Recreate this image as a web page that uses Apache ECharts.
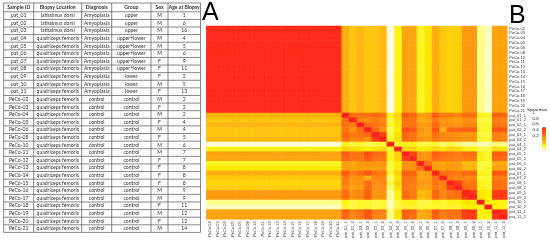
<!DOCTYPE html>
<html><head><meta charset="utf-8">
<style>html,body{margin:0;padding:0;background:#fff}#c{width:550px;height:241px}</style>
<script src="https://cdn.jsdelivr.net/npm/echarts@6/dist/echarts.min.js"></script></head>
<body><div id="c"></div>
<script>
const tableHeader = ["Sample ID","Biopsy Location","Diagnosis","Group","Sex","Age at Biopsy"];
const sampleIds = ["pat_01","pat_02","pat_03","pat_04","pat_05","pat_06","pat_07","pat_08","pat_09","pat_10","pat_11","PeCo-02","PeCo-03","PeCo-04","PeCo-05","PeCo-06","PeCo-08","PeCo-10","PeCo-11","PeCo-12","PeCo-13","PeCo-14","PeCo-15","PeCo-16","PeCo-17","PeCo-18","PeCo-19","PeCo-20","PeCo-21"];
const biopsy = ["latissimus dorsi","latissimus dorsi","latissimus dorsi"].concat(Array(26).fill("quadriceps femoris"));
const diagnosis = Array(11).fill("Amyoplasia").concat(Array(18).fill("control"));
const groups = ["upper","upper","upper","upper+lower","upper+lower","upper+lower","upper+lower","upper+lower","lower","lower","lower"].concat(Array(18).fill("control"));
const sexes = ["M","M","M","M","M","M","F","F","F","M","F","M","F","M","F","M","F","M","M","F","F","F","F","M","M","F","M","F","M"];
const ages = [1,6,16,4,5,6,9,11,2,5,13,2,2,2,4,4,5,6,7,7,8,8,8,9,9,11,12,12,14];

const pecoLabels = ["PeCo.02","PeCo.03","PeCo.04","PeCo.05","PeCo.06","PeCo.08","PeCo.10","PeCo.11","PeCo.12","PeCo.13","PeCo.14","PeCo.15","PeCo.16","PeCo.17","PeCo.18","PeCo.19","PeCo.20","PeCo.21"];
const patLabels = ["pat_01_1","pat_01_2","pat_02_1","pat_02_2","pat_03_1","pat_03_2","pat_04_1","pat_04_2","pat_05_1","pat_05_2","pat_06_1","pat_06_2","pat_07_1","pat_07_2","pat_08_1","pat_08_2","pat_09_1","pat_09_2","pat_10_1","pat_10_2","pat_11_1","pat_11_2"];

// Control samples among themselves look uniform
const pecoVsPeco = 0.97;
// Each patient sample against the control block
const patVsPeco = [.55,.49,.53,.49,.49,.52,.20,.38,.59,.58,.37,.42,.56,.48,.46,.47,.62,.62,.28,.23,.59,.59];
// Upper triangle of patient sample correlations, one row per sample, starting at the diagonal
const patUpper = [
[1,.76,.75,.74,.78,.74,.38,.46,.82,.78,.60,.62,.82,.72,.72,.68,.76,.76,.38,.36,.80,.78],
[1,.70,.64,.72,.68,.34,.44,.74,.74,.58,.60,.72,.64,.62,.60,.64,.64,.34,.34,.70,.68],
[1,.76,.74,.70,.36,.42,.74,.74,.62,.62,.76,.64,.64,.62,.68,.68,.36,.36,.74,.72],
[1,.77,.64,.32,.40,.86,.82,.64,.60,.84,.55,.78,.78,.80,.80,.36,.36,.84,.84],
[1,.90,.34,.42,.78,.74,.62,.60,.74,.68,.66,.64,.62,.62,.34,.34,.70,.68],
[1,.36,.44,.76,.74,.64,.62,.72,.68,.68,.66,.64,.64,.36,.36,.70,.68],
[1,.36,.37,.38,.34,.34,.36,.30,.34,.30,.26,.26,.24,.24,.30,.28],
[1,.46,.46,.40,.42,.46,.42,.46,.44,.38,.38,.34,.34,.44,.42],
[1,.90,.64,.64,.82,.76,.74,.72,.76,.76,.38,.36,.82,.80],
[1,.64,.64,.78,.74,.72,.70,.72,.72,.38,.36,.78,.76],
[1,.76,.60,.58,.62,.60,.52,.52,.34,.34,.58,.56],
[1,.62,.60,.62,.60,.54,.54,.34,.36,.60,.58],
[1,.74,.74,.72,.78,.78,.38,.36,.82,.80],
[1,.70,.68,.68,.68,.36,.36,.72,.70],
[1,.90,.74,.74,.38,.36,.76,.74],
[1,.76,.74,.38,.36,.76,.74],
[1,.94,.42,.40,.92,.92],
[1,.42,.40,.92,.92],
[1,.38,.40,.38],
[1,.40,.38],
[1,.94],
[1]
];
const legendTicks = [1,0.8,0.6,0.4,0.2];
const heatColors = ["#fffce0","#ffff70","#fff000","#ffc010","#ffa010","#ff8010","#ff6010","#ff4010","#ff2020"];

const allLabels = pecoLabels.concat(patLabels);
const nP = pecoLabels.length, n = allLabels.length;
function cell(i,j){
  if(i<nP&&j<nP) return pecoVsPeco;
  if(i<nP) return patVsPeco[j-nP];
  if(j<nP) return patVsPeco[i-nP];
  const a=Math.min(i,j)-nP,b=Math.max(i,j)-nP;
  return patUpper[a][b-a];
}
const data=[];
for(let i=0;i<n;i++)for(let j=0;j<n;j++)data.push([j,i,cell(i,j)]);

// Table drawn as graphic elements
const colX=[3.7,33.7,81.7,111.7,151,168,200.5];
const headTop=3, headBottom=11.8, rowH=7.607, nRows=sampleIds.length;
const g=[];
const lineStyle={stroke:"#555",lineWidth:0.7};
function hLine(y){g.push({type:"line",silent:true,shape:{x1:colX[0],y1:y,x2:colX[6],y2:y},style:lineStyle});}
function vLine(x,y2){g.push({type:"line",silent:true,shape:{x1:x,y1:headTop,x2:x,y2:y2},style:lineStyle});}
function txt(x,y,s,opt){g.push({type:"text",silent:true,x:x,y:y,style:Object.assign({text:s,fill:"#333",font:"5.1px Lato",align:"center",verticalAlign:"middle"},opt||{})});}
const tableBottom=headBottom+rowH*nRows;
hLine(headTop);hLine(headBottom);
for(let r=1;r<=nRows;r++)hLine(headBottom+rowH*r);
colX.forEach(x=>vLine(x,tableBottom));
tableHeader.forEach((h,c)=>txt((colX[c]+colX[c+1])/2,headTop+4.4,h,{font:"bold 5.1px Lato"}));
for(let r=0;r<nRows;r++){
  const y=headBottom+rowH*(r+0.5);
  [sampleIds[r],biopsy[r],diagnosis[r],groups[r],sexes[r],String(ages[r])].forEach((v,c)=>txt((colX[c]+colX[c+1])/2,y,v));
}
txt(202,13,"A",{font:"25px 'Liberation Sans'",align:"left",fill:"#000"});
txt(509,16,"B",{font:"25px 'Liberation Sans'",align:"left",fill:"#000"});
txt(527,109.5,"Spearman",{font:"4.4px 'Liberation Sans'",align:"left",fill:"#222"});
legendTicks.forEach(v=>txt(532.5,112.5+(1-v)/0.8*23.2,String(v),{font:"4.4px 'Liberation Sans'",align:"left",fill:"#222"}));

const axisLabel={interval:0,fontSize:4,color:"#333",fontFamily:"Liberation Sans",margin:2};
const chart=echarts.init(document.getElementById("c"),null,{renderer:"canvas"});
chart.setOption({
  animation:false,
  backgroundColor:"#fff",
  grid:{left:206.3,top:26,width:301,height:193.3},
  xAxis:{type:"category",data:allLabels,axisLine:{show:false},axisTick:{show:false},splitArea:{show:false},splitLine:{show:false},axisLabel:Object.assign({rotate:90},axisLabel)},
  yAxis:{type:"category",data:allLabels,inverse:true,position:"right",axisLine:{show:false},axisTick:{show:false},splitArea:{show:false},splitLine:{show:false},axisLabel:axisLabel},
  visualMap:{type:"continuous",min:0.2,max:1,left:527,top:112,itemWidth:4,itemHeight:24,text:null,showLabel:false,calculable:false,inRange:{color:heatColors},textStyle:{fontSize:0}},
  series:[{type:"heatmap",data:data,silent:true,itemStyle:{borderWidth:0},emphasis:{disabled:true},progressive:0}],
  graphic:g
});
</script></body></html>
